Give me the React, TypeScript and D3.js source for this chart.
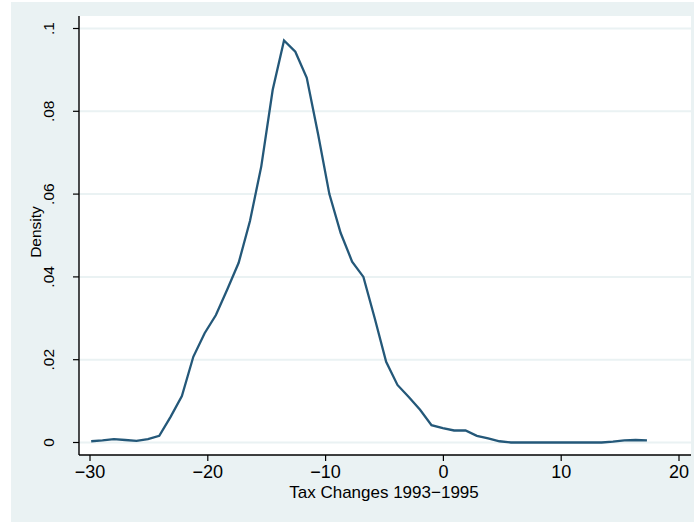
import React from 'react';
import * as d3 from 'd3';

// kernel density estimate
const taxChange = [
  -29.9, -28.94, -27.97, -27.01, -26.05, -25.08, -24.12, -23.16, -22.2, -21.23,
  -20.27, -19.31, -18.34, -17.38, -16.42, -15.46, -14.49, -13.53, -12.57, -11.6,
  -10.64, -9.68, -8.72, -7.75, -6.79, -5.83, -4.86, -3.9, -2.94, -1.98,
  -1.01, -0.05, 0.91, 1.88, 2.84, 3.8, 4.76, 5.73, 6.69, 7.65,
  8.62, 9.58, 10.54, 11.5, 12.47, 13.43, 14.39, 15.36, 16.32, 17.28,
];
const density = [
  0.0003, 0.0005, 0.0008, 0.0006, 0.0004, 0.0008, 0.0016, 0.0062, 0.0112, 0.0207,
  0.0264, 0.0308, 0.037, 0.0434, 0.0535, 0.0667, 0.0852, 0.0971, 0.0944, 0.0881,
  0.0745, 0.06, 0.0506, 0.0437, 0.04, 0.03, 0.0195, 0.0139, 0.011, 0.0079,
  0.0042, 0.0035, 0.0029, 0.0029, 0.0016, 0.001, 0.0003, 0.0, 0.0, 0.0,
  0.0, 0.0, 0.0, 0.0, 0.0, 0.0, 0.0002, 0.0005, 0.0006, 0.0005,
];
const xTicks = [-30, -20, -10, 0, 10, 20];
const yTicks = [0, 0.02, 0.04, 0.06, 0.08, 0.1];
const yTickLabels = ['0', '.02', '.04', '.06', '.08', '.1'];

const App = () => {
  const width = 694;
  const height = 522;
  const plot = { l: 79, r: 691, t: 16, b: 455 };
  const font = '"Liberation Sans", Arial, Helvetica, sans-serif';

  const x = d3.scaleLinear().domain([-30, 20]).range([90, 679]);
  const y = d3.scaleLinear().domain([0, 0.1]).range([442.5, 28.5]);

  const pts = taxChange.map((t, i) => [t, density[i]] as [number, number]);
  const line = d3.line<[number, number]>()
    .x(d => x(d[0]))
    .y(d => y(d[1]));

  return (
    <svg width={width} height={height} style={{ position: 'absolute', left: 0, top: 0 }}>
      <rect x={0} y={0} width={width} height={height} fill="#ffffff" />
      <rect x={11} y={2} width={width - 11} height={height - 2} fill="#eaf2f3" />
      <rect x={plot.l} y={plot.t} width={plot.r - plot.l} height={plot.b - plot.t} fill="#ffffff" />

      {/* gridlines */}
      {yTicks.map(d => (
        <line key={'g' + d} x1={plot.l} x2={plot.r} y1={y(d)} y2={y(d)} stroke="#eaf2f3" strokeWidth={2} />
      ))}

      <path d={line(pts) || ''} fill="none" stroke="#245879" strokeWidth={2.3} strokeLinejoin="miter" />

      {/* axes */}
      <line x1={plot.l} x2={plot.l} y1={plot.t} y2={plot.b} stroke="#000" strokeWidth={1.4} />
      <line x1={plot.l} x2={plot.r} y1={plot.b} y2={plot.b} stroke="#000" strokeWidth={1.4} />

      {/* y ticks */}
      {yTicks.map((d, i) => (
        <g key={'y' + d}>
          <line x1={plot.l - 6} x2={plot.l} y1={y(d)} y2={y(d)} stroke="#000" strokeWidth={1.2} />
          <text transform={`translate(53.5,${y(d)}) rotate(-90)`} textAnchor="middle"
            fontFamily={font} fontSize={15.5} fill="#000">{yTickLabels[i]}</text>
        </g>
      ))}

      {/* x ticks */}
      {xTicks.map(d => (
        <g key={'x' + d}>
          <line x1={x(d)} x2={x(d)} y1={plot.b} y2={plot.b + 6} stroke="#000" strokeWidth={1.2} />
          <text x={x(d)} y={478} textAnchor="middle" fontFamily={font} fontSize={18} fill="#000">
            {d < 0 ? '\u2212' + Math.abs(d) : d}
          </text>
        </g>
      ))}

      <text x={384} y={498} textAnchor="middle" fontFamily={font} fontSize={17} fill="#000">
        Tax Changes 1993{'\u2212'}1995
      </text>
      <text transform="translate(41,232) rotate(-90)" textAnchor="middle" fontFamily={font} fontSize={15.5} fill="#000">
        Density
      </text>
    </svg>
  );
};

export default App;
